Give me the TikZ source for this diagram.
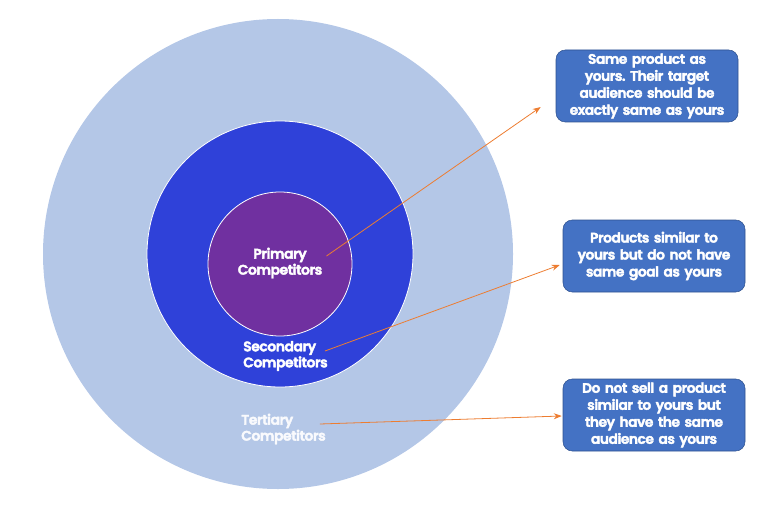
\documentclass[tikz,border=0pt]{standalone}
\usepackage{fontspec}
\setmainfont{Poppins}
\IfFontExistsTF{Poppins SemiBold}
    {\newfontfamily\heavy{Poppins SemiBold}[LetterSpace=-3]}
    {\IfFontExistsTF{Poppins Medium}
        {\newfontfamily\heavy{Poppins Medium}[LetterSpace=-3]}
        {\newfontfamily\heavy{Poppins}[LetterSpace=-3]}}
\newcommand\inked[1]{\special{pdf:literal direct 2 Tr 0.28 w}#1\special{pdf:literal direct 0 Tr}}
\frenchspacing
\usetikzlibrary{arrows.meta, calc}
\definecolor{outerring}{HTML}{B4C7E7}
\definecolor{middlering}{HTML}{2F41D9}
\definecolor{innerring}{HTML}{7030A0}
\definecolor{notefill}{HTML}{4472C4}
\definecolor{noteborder}{HTML}{2F528F}
\definecolor{pointer}{HTML}{ED7D31}
\tikzset {
    >={Stealth[length=6pt, width=4.5pt]},
    ring/.style={circle, draw=white, line width=0.6pt, inner sep=0pt},
    note/.style={rectangle, rounded corners=7pt, draw=noteborder, fill=notefill,
        text=white, align=center, text width=128pt, minimum width=136.5pt,
        minimum height=54pt, inner sep=0pt, font=\heavy\fontsize{10.3}{12.75}\selectfont},
    tag/.style={text=white, inner sep=0pt, font=\heavy\fontsize{10.4}{12}\selectfont},
    link/.style={->, draw=pointer, line width=0.6pt}
}

\begin{document}
\begin{tikzpicture}[x=0.75pt, y=-0.75pt]
    \useasboundingbox (0,0) rectangle (781,506);

    \node[ring, fill=outerring, draw=none, minimum size=352.5pt] (tertiary ring) at (278,254) {};
    \node[ring, fill=middlering, minimum size=199.5pt] (secondary ring) at (280,254) {};
    \node[ring, fill=innerring, minimum size=108pt] (primary ring) at (280,264) {};

    \node[tag, align=center] (primary) at (280,263) {\inked{Primary}\\\inked{Competitors}};
    \node[tag, align=left, anchor=west] (secondary) at (243,356) {\inked{Secondary}\\\inked{Competitors}};
    \node[tag, align=left, anchor=west, text=white!92!outerring] (tertiary) at (241,429) {\inked{Tertiary}\\\inked{Competitors}};

    \node[note] (same) at (647,86) {\inked{Same product as}\\\inked{yours. Their target}\\\inked{audience should be}\\\inked{exactly same as yours}};
    \node[note] (similar) at (654,256) {\inked{Products similar to}\\\inked{yours but do not have}\\\inked{same goal as yours}};
    \node[note] (audience) at (654,415) {\inked{Do not sell a product}\\\inked{similar to yours but}\\\inked{they have the same}\\\inked{audience as yours}};

    \draw[link] ($(primary.east)+(4,-7)$) -- ($(same.west)+(-15,21)$);
    \draw[link] ($(secondary.east)+(-3,-5)$) -- ($(similar.west)+(-3,9)$);
    \draw[link] ($(tertiary.east)+(-6,-5)$) -- ($(audience.west)+(-1,1)$);
\end{tikzpicture}
\end{document}
